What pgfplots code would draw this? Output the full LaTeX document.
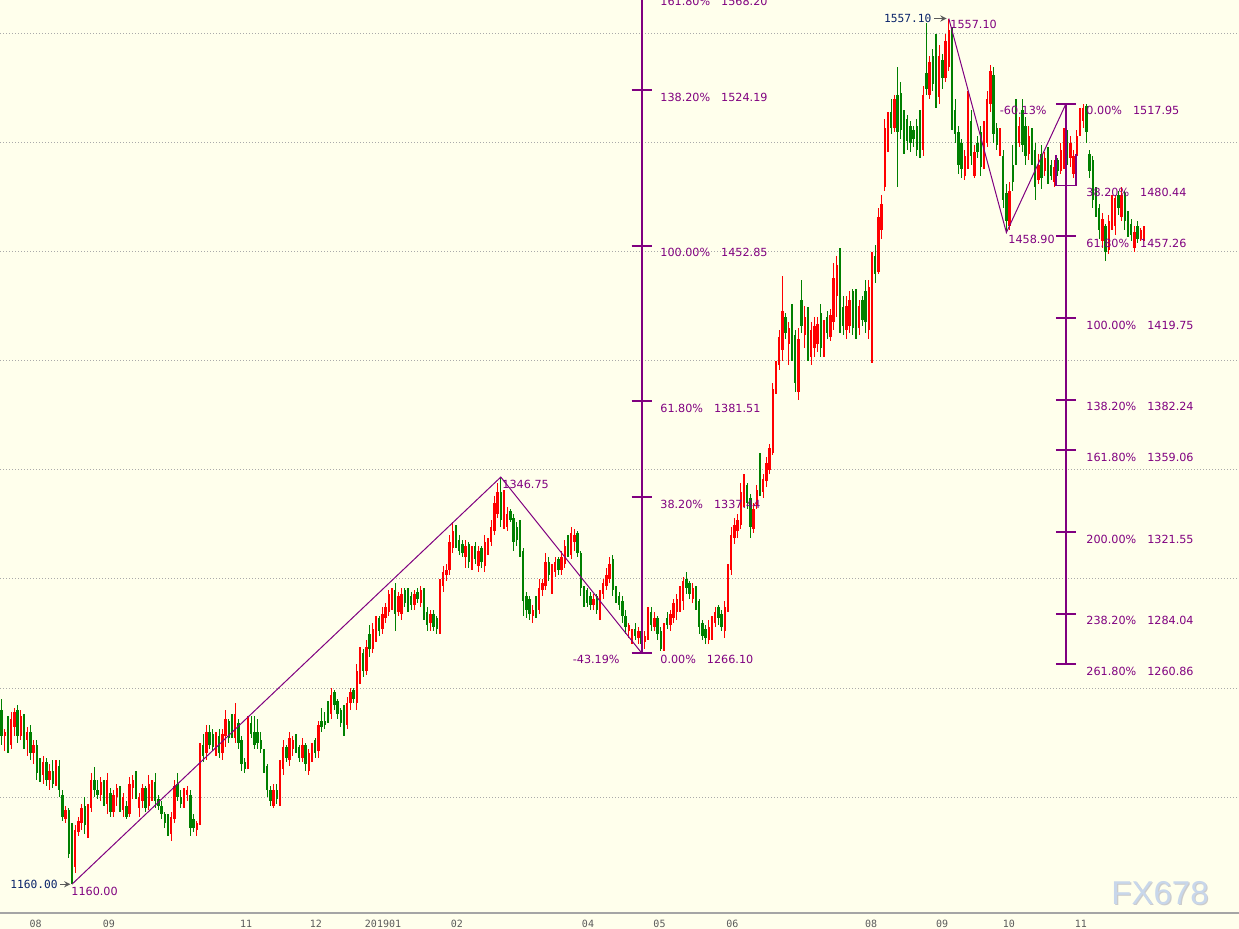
\documentclass[border=0pt]{standalone}
\usepackage{fontspec}
\setmainfont{DejaVu Sans}
\newfontfamily\monofont{DejaVu Sans Mono}
\newfontfamily\wmfont{Liberation Sans}
\usepackage{pgfplots}
\usepackage{pgfplotstable}
\pgfplotsset{compat=1.18}

\definecolor{bg}{RGB}{255,255,236}
\definecolor{upc}{RGB}{255,0,0}
\definecolor{dnc}{RGB}{0,128,0}
\definecolor{fib}{RGB}{128,0,128}
\definecolor{navy}{RGB}{10,36,106}
\definecolor{gridc}{RGB}{170,170,170}
\definecolor{axc}{RGB}{165,165,165}
\definecolor{tickc}{RGB}{90,90,90}
\definecolor{wm}{RGB}{200,215,235}

% daily candles: index, open, high, low, close
\pgfplotstableread{
i o h l c
0 1240 1245 1224 1228
1 1228 1231 1221 1230
2 1234 1237 1220 1224
3 1224 1239 1222 1236
4 1232 1241 1228 1239
5 1240 1242 1225 1228
6 1228 1240 1226 1237
7 1237 1238 1222 1226
8 1226 1232 1219 1230
9 1230 1233 1217 1220
10 1220 1226 1215 1224
11 1224 1226 1208 1211
12 1212 1218 1207 1210
13 1210 1219 1206 1216
14 1216 1218 1205 1208
15 1208 1215 1203 1212
16 1212 1217 1204 1206
17 1206 1217 1205 1214
18 1214 1217 1200 1203
19 1201 1203 1189 1191
20 1190 1196 1188 1194
21 1194 1195 1172 1174
22 1183 1188 1160 1166
23 1168 1187 1165 1185
24 1184 1191 1182 1189
25 1188 1197 1185 1195
26 1196 1200 1183 1187
27 1186 1197 1181 1195
28 1195 1211 1193 1208
29 1208 1214 1200 1203
30 1203 1208 1199 1201
31 1201 1209 1198 1207
32 1207 1208 1196 1198
33 1197 1211 1192 1208
34 1202 1204 1191 1193
35 1193 1203 1191 1201
36 1200 1206 1196 1204
37 1204 1205 1193 1195
38 1194 1202 1191 1200
39 1196 1198 1190 1191
40 1192 1209 1191 1206
41 1204 1210 1199 1208
42 1208 1212 1199 1201
43 1195 1202 1191 1200
44 1198 1206 1195 1204
45 1204 1205 1193 1195
46 1196 1210 1194 1206
47 1202 1208 1198 1206
48 1207 1211 1195 1198
49 1199 1201 1194 1196
50 1196 1198 1190 1192
51 1192 1193 1186 1188
52 1190 1192 1182 1184
53 1183 1193 1180 1191
54 1190 1208 1188 1205
55 1206 1211 1198 1200
56 1200 1203 1195 1197
57 1197 1204 1195 1202
58 1201 1205 1198 1203
59 1201 1203 1182 1186
60 1190 1192 1184 1186
61 1185 1189 1182 1188
62 1188 1225 1187 1222
63 1224 1229 1216 1219
64 1220 1233 1217 1230
65 1230 1233 1222 1224
66 1229 1231 1221 1223
67 1222 1230 1219 1228
68 1228 1231 1218 1220
69 1220 1231 1217 1229
70 1228 1240 1223 1236
71 1235 1236 1225 1227
72 1233 1238 1227 1229
73 1227 1243 1225 1238
74 1234 1236 1222 1225
75 1226 1228 1212 1215
76 1216 1218 1211 1213
77 1214 1237 1213 1234
78 1234 1237 1227 1229
79 1230 1237 1222 1224
80 1230 1236 1222 1225
81 1226 1230 1220 1222
82 1220 1222 1211 1214
83 1214 1215 1200 1203
84 1203 1205 1196 1198
85 1196 1206 1195 1203
86 1203 1206 1197 1199
87 1200 1217 1196 1214
88 1213 1226 1210 1223
89 1223 1224 1216 1218
90 1217 1230 1214 1227
91 1222 1228 1219 1226
92 1227 1229 1220 1222
93 1223 1224 1216 1218
94 1218 1227 1216 1224
95 1224 1225 1212 1215
96 1212 1222 1210 1220
97 1218 1225 1216 1223
98 1226 1227 1218 1220
99 1221 1235 1218 1233
100 1235 1241 1230 1232
101 1235 1239 1231 1233
102 1240 1244 1234 1236
103 1238 1250 1236 1247
104 1248 1249 1240 1242
105 1244 1245 1236 1238
106 1240 1241 1232 1234
107 1240 1242 1228 1231
108 1233 1246 1231 1243
109 1243 1250 1240 1248
110 1249 1250 1243 1245
111 1243 1261 1240 1258
112 1256 1269 1252 1266
113 1266 1268 1255 1258
114 1258 1272 1256 1269
115 1275 1279 1264 1268
116 1268 1280 1266 1277
117 1273 1283 1271 1281
118 1282 1283 1274 1276
119 1277 1287 1275 1284
120 1282 1289 1280 1287
121 1285 1295 1283 1293
122 1288 1296 1286 1294
123 1295 1298 1276 1284
124 1285 1294 1283 1292
125 1284 1296 1281 1293
126 1295 1296 1287 1289
127 1293 1296 1285 1287
128 1292 1294 1286 1288
129 1288 1295 1286 1293
130 1294 1296 1289 1291
131 1289 1297 1287 1295
132 1295 1296 1281 1284
133 1285 1287 1276 1279
134 1280 1286 1276 1284
135 1284 1286 1276 1278
136 1282 1283 1275 1277
137 1278 1300 1275 1297
138 1297 1306 1294 1303
139 1302 1307 1299 1304
140 1304 1320 1302 1317
141 1314 1326 1312 1322
142 1322 1325 1314 1316
143 1318 1320 1311 1313
144 1316 1318 1310 1312
145 1310 1318 1305 1315
146 1316 1317 1305 1308
147 1307 1315 1304 1312
148 1315 1317 1307 1309
149 1306 1315 1303 1313
150 1314 1315 1305 1308
151 1306 1320 1303 1317
152 1314 1319 1311 1317
153 1317 1327 1315 1324
154 1322 1338 1320 1335
155 1330 1344 1328 1340
156 1340 1346.75 1324 1327
157 1327 1341 1323 1337
158 1324 1333 1322 1330
159 1331 1332 1326 1327
160 1328 1330 1313 1317
161 1324 1326 1315 1318
162 1322 1327 1310 1313
163 1313 1314 1283 1290
164 1292 1294 1282 1286
165 1291 1292 1281 1284
166 1283 1288 1280 1286
167 1290 1292 1282 1285
168 1286 1300 1284 1296
169 1295 1300 1292 1298
170 1297 1312 1295 1308
171 1308 1310 1299 1302
172 1296 1307 1293 1305
173 1303 1310 1301 1308
174 1309 1310 1302 1304
175 1304 1313 1302 1310
176 1307 1318 1305 1315
177 1318 1320 1310 1312
178 1311 1324 1309 1321
179 1317 1323 1313 1320
180 1321 1322 1310 1312
181 1312 1313 1292 1296
182 1296 1297 1287 1290
183 1295 1296 1287 1289
184 1292 1294 1286 1288
185 1288 1293 1286 1291
186 1292 1293 1284 1286
187 1285 1295 1281 1293
188 1293 1300 1291 1298
189 1297 1305 1295 1302
190 1300 1310 1298 1307
191 1309 1311 1292 1295
192 1295 1297 1289 1291
193 1292 1294 1286 1288
194 1290 1292 1280 1283
195 1283 1286 1275 1278
196 1276 1280 1273 1279
197 1272 1277 1270 1276
198 1277 1280 1272 1274
199 1273 1278 1270 1276
200 1276 1278 1266.1 1270
201 1271 1276 1268 1274
202 1273 1287 1272 1284
203 1285 1287 1276 1279
204 1278 1285 1276 1282
205 1282 1283 1272 1275
206 1276 1278 1267 1268
207 1268 1280 1267 1277
208 1282 1285 1277 1279
209 1279 1286 1276 1284
210 1282 1291 1280 1289
211 1285 1293 1281 1291
212 1288 1297 1285 1295
213 1290 1301 1286 1299
214 1300 1303 1293 1296
215 1298 1299 1291 1293
216 1291 1298 1289 1296
217 1296 1297 1286 1288
218 1290 1291 1275 1278
219 1280 1281 1272 1274
220 1277 1279 1270 1273
221 1272 1281 1270 1278
222 1274 1283 1272 1281
223 1280 1287 1278 1285
224 1287 1288 1279 1282
225 1284 1286 1276 1278
226 1276 1290 1273 1287
227 1286 1307 1285 1304
228 1304 1324 1302 1320
229 1319 1328 1316 1325
230 1322 1330 1319 1327
231 1325 1344 1323 1340
232 1336 1348 1333 1345
233 1343 1344 1332 1335
234 1337 1339 1319 1324
235 1323 1335 1321 1332
236 1334 1343 1332 1341
237 1350 1358 1338 1342
238 1340 1348 1337 1346
239 1345 1356 1342 1353
240 1350 1362 1348 1360
241 1358 1390 1357 1387
242 1387 1400 1385 1397
243 1398 1414 1396 1411
244 1405 1439 1400 1423
245 1420 1422 1410 1413
246 1408 1418 1398 1415
247 1414 1426 1400 1413
248 1412 1414 1386 1390
249 1386 1415 1382 1410
250 1428 1437 1413 1416
251 1412 1425 1406 1420
252 1422 1425 1400 1404
253 1402 1418 1398 1414
254 1406 1420 1402 1416
255 1408 1420 1404 1417
256 1422 1426 1402 1406
257 1406 1419 1402 1416
258 1420 1423 1410 1413
259 1411 1424 1409 1421
260 1418 1445 1414 1438
261 1430 1448 1420 1444
262 1440 1452 1413 1418
263 1425 1430 1412 1416
264 1414 1430 1410 1425
265 1416 1432 1413 1428
266 1432 1433 1412 1415
267 1430 1433 1410 1414
268 1415 1428 1412 1425
269 1428 1430 1416 1419
270 1432 1437 1413 1418
271 1414 1437 1410 1434
272 1412 1450 1399 1446
273 1448 1453 1436 1440
274 1441 1470 1440 1466
275 1460 1476 1456 1472
276 1480 1511 1478 1507
277 1500 1514 1496 1511
278 1514 1520 1504 1507
279 1507 1522 1505 1520
280 1522 1535 1480 1505
281 1523 1528 1502 1506
282 1513 1515 1495 1499
283 1511 1513 1497 1501
284 1508 1510 1496 1500
285 1506 1508 1498 1502
286 1508 1511 1494 1497
287 1513 1515 1493 1498
288 1497 1526 1494 1522
289 1532 1555 1522 1525
290 1522 1540 1520 1537
291 1540 1543 1524 1527
292 1545 1550 1516 1522
293 1521 1545 1518 1540
294 1538 1541 1525 1530
295 1530 1550 1528 1547
296 1535 1557.1 1533 1552
297 1551 1553 1506 1510
298 1515 1520 1500 1504
299 1505 1508 1486 1490
300 1500 1502 1484 1488
301 1485 1497 1483 1494
302 1490 1524 1488 1518
303 1510 1515 1490 1494
304 1485 1499 1484 1496
305 1500 1503 1493 1496
306 1505 1508 1485 1489
307 1490 1510 1488 1506
308 1500 1524 1498 1520
309 1518 1536 1514 1533
310 1531 1535 1500 1504
311 1507 1509 1497 1499
312 1497 1507 1494 1504
313 1494 1497 1470 1474
314 1477 1481 1458.9 1464
315 1462 1482 1460 1478
316 1490 1499 1478 1482
317 1515 1520 1490 1494
318 1500 1512 1498 1508
319 1515 1520 1496 1499
320 1508 1512 1490 1494
321 1495 1508 1492 1503
322 1504 1507 1490 1494
323 1497 1500 1474 1480
324 1483 1495 1481 1490
325 1495 1499 1479 1484
326 1487 1496 1485 1493
327 1495 1498 1481 1485
328 1490 1492 1483 1485
329 1482 1492 1480 1489
330 1492 1493 1485 1487
331 1487 1500 1486 1497
332 1490 1507 1488 1504
333 1502 1506 1490 1494
334 1493 1503 1489 1500
335 1486 1497 1484 1494
336 1494 1506 1492 1503
337 1505 1516 1503 1513
338 1510 1518 1507 1516
339 1517 1517.95 1500 1505
340 1495 1497 1484 1487
341 1492 1494 1470 1474
342 1478 1480 1466 1468
343 1470 1472 1456 1460
344 1455 1468 1452 1465
345 1462 1463 1446 1450
346 1451 1467 1449 1464
347 1462 1476 1460 1472
348 1462 1476 1458 1475
349 1476 1478 1467 1470
350 1466 1480 1464 1476
351 1477 1478 1460 1464
352 1467 1469 1457 1460
353 1463 1465 1455 1458
354 1452 1462 1450 1459
355 1462 1464 1454 1456
356 1456 1461 1455 1460
357 1456 1462 1455 1461
}\candles

\newcommand\labfont{\fontsize{5.6}{6}\selectfont}
\newcommand\navfont{\monofont\fontsize{5.6}{6}\selectfont}
\tikzset{
  fiblab/.style={anchor=west, text=fib, font=\labfont, inner sep=0pt, yshift=-3.5pt},
  fibline/.style={draw=fib, line width=1pt},
  hgrid/.style={densely dotted, draw=gridc, line width=0.5pt},
}

\begin{document}
\begin{tikzpicture}
\fill[bg] (0pt,-8pt) rectangle (619.5pt,456.5pt);
\begin{axis}[
    name=ax,
    at={(0pt,0pt)}, anchor=south west,
    width=619.5pt, height=456.5pt, scale only axis,
    xmin=-0.5, xmax=386.69,
    ymin=1146.8, ymax=1565.6,
    axis line style={draw=none},
    major tick length=0pt,
    ytick=\empty,
    xtick={10.6,33.5,76.4,98.25,119.2,142.3,183.25,205.6,228.4,271.7,293.9,314.8,337.3},
    xticklabels={08,09,11,12,201901,02,04,05,06,08,09,10,11},
    xticklabel style={font=\monofont\fontsize{5}{6}\selectfont, text=tickc},
    candle/.style={draw=none, mark=none, forget plot},
]
% horizontal price grid every 50
\draw[hgrid] (-0.5,1200) -- (386.69,1200);
\draw[hgrid] (-0.5,1250) -- (386.69,1250);
\draw[hgrid] (-0.5,1300) -- (386.69,1300);
\draw[hgrid] (-0.5,1350) -- (386.69,1350);
\draw[hgrid] (-0.5,1400) -- (386.69,1400);
\draw[hgrid] (-0.5,1450) -- (386.69,1450);
\draw[hgrid] (-0.5,1500) -- (386.69,1500);
\draw[hgrid] (-0.5,1550) -- (386.69,1550);

% up candles (red): wick, then body
\addplot[candle,
    restrict expr to domain={\thisrow{c}-\thisrow{o}}{0:10000},
    error bars/.cd, y dir=both, y explicit, error mark=none,
    error bar style={draw=upc, line width=0.55pt}]
    table[x=i, y expr={(\thisrow{h}+\thisrow{l})/2}, y error expr={(\thisrow{h}-\thisrow{l})/2}] {\candles};
\addplot[candle,
    restrict expr to domain={\thisrow{c}-\thisrow{o}}{0:10000},
    error bars/.cd, y dir=both, y explicit, error mark=none,
    error bar style={draw=upc, line width=1.2pt}]
    table[x=i, y expr={(\thisrow{o}+\thisrow{c})/2}, y error expr={abs(\thisrow{c}-\thisrow{o})/2}] {\candles};
% down candles (green)
\addplot[candle,
    restrict expr to domain={\thisrow{o}-\thisrow{c}}{0.001:10000},
    error bars/.cd, y dir=both, y explicit, error mark=none,
    error bar style={draw=dnc, line width=0.55pt}]
    table[x=i, y expr={(\thisrow{h}+\thisrow{l})/2}, y error expr={(\thisrow{h}-\thisrow{l})/2}] {\candles};
\addplot[candle,
    restrict expr to domain={\thisrow{o}-\thisrow{c}}{0.001:10000},
    error bars/.cd, y dir=both, y explicit, error mark=none,
    error bar style={draw=dnc, line width=1.2pt}]
    table[x=i, y expr={(\thisrow{o}+\thisrow{c})/2}, y error expr={abs(\thisrow{c}-\thisrow{o})/2}] {\candles};

% zigzag swings
\addplot[fib, line width=0.5pt, forget plot] coordinates {(22,1160) (156,1346.75) (200,1266.1)};
\addplot[fib, line width=0.5pt, forget plot] coordinates {(296,1557.1) (314,1458.9) (332.6,1517.95)};

% first fibonacci projection
\draw[fibline] (200,1266.1) -- (200,1600);
\draw[fibline] (196.9,1266.1) -- (203.1,1266.1);
\draw[fibline] (196.9,1337.44) -- (203.1,1337.44);
\draw[fibline] (196.9,1381.51) -- (203.1,1381.51);
\draw[fibline] (196.9,1452.85) -- (203.1,1452.85);
\draw[fibline] (196.9,1524.19) -- (203.1,1524.19);
\draw[fibline] (196.9,1568.2) -- (203.1,1568.2);
\node[fiblab] at (205.75,1266.1) {0.00\%\hspace{5.5pt}1266.10};
\node[fiblab] at (205.75,1337.44) {38.20\%\hspace{5.5pt}1337.44};
\node[fiblab] at (205.75,1381.51) {61.80\%\hspace{5.5pt}1381.51};
\node[fiblab] at (205.75,1452.85) {100.00\%\hspace{5.5pt}1452.85};
\node[fiblab] at (205.75,1524.19) {138.20\%\hspace{5.5pt}1524.19};
\node[fiblab] at (205.75,1568.2) {161.80\%\hspace{5.5pt}1568.20};
\node[fiblab, anchor=east] at (193.25,1266.1) {-43.19\%};

% second fibonacci projection
\draw[fibline] (332.6,1517.95) -- (332.6,1260.86);
\draw[fibline] (329.5,1517.95) -- (335.75,1517.95);
\draw[fibline] (329.5,1457.26) -- (335.75,1457.26);
\draw[fibline] (329.5,1419.75) -- (335.75,1419.75);
\draw[fibline] (329.5,1382.24) -- (335.75,1382.24);
\draw[fibline] (329.5,1359.06) -- (335.75,1359.06);
\draw[fibline] (329.5,1321.55) -- (335.75,1321.55);
\draw[fibline] (329.5,1284.04) -- (335.75,1284.04);
\draw[fibline] (329.5,1260.86) -- (335.75,1260.86);
\draw[draw=fib, line width=0.6pt] (329.5,1494.5) -- (329.5,1480.44) -- (335.75,1480.44) -- (335.75,1495);
\node[fiblab] at (338.9,1517.95) {0.00\%\hspace{5.5pt}1517.95};
\node[fiblab] at (338.9,1480.44) {38.20\%\hspace{5.5pt}1480.44};
\node[fiblab] at (338.9,1457.26) {61.80\%\hspace{5.5pt}1457.26};
\node[fiblab] at (338.9,1419.75) {100.00\%\hspace{5.5pt}1419.75};
\node[fiblab] at (338.9,1382.24) {138.20\%\hspace{5.5pt}1382.24};
\node[fiblab] at (338.9,1359.06) {161.80\%\hspace{5.5pt}1359.06};
\node[fiblab] at (338.9,1321.55) {200.00\%\hspace{5.5pt}1321.55};
\node[fiblab] at (338.9,1284.04) {238.20\%\hspace{5.5pt}1284.04};
\node[fiblab] at (338.9,1260.86) {261.80\%\hspace{5.5pt}1260.86};
\node[fiblab, anchor=east] at (326.7,1517.95) {-60.13\%};

% swing point labels
\node[fiblab] at (21.7,1160) {1160.00};
\node[fiblab] at (156.4,1346.75) {1346.75};
\node[fiblab, yshift=0.3pt] at (296.4,1557.1) {1557.10};
\node[fiblab, yshift=0.3pt] at (314.5,1458.9) {1458.90};
\node[anchor=east, text=navy, font=\navfont, inner sep=0pt] at (17.6,1160) {1160.00};
\draw[->, >=stealth, draw=tickc, line width=0.4pt] (18.3,1160) -- (21.5,1160);
\node[anchor=east, text=navy, font=\navfont, inner sep=0pt] at (290.7,1557.1) {1557.10};
\draw[->, >=stealth, draw=tickc, line width=0.4pt] (291.4,1557.1) -- (295.3,1557.1);

% watermark
\node[text=gray!40, font=\wmfont\fontsize{16.5}{17}\selectfont, xshift=0.6pt, yshift=-0.6pt] at (362,1156) {FX678};
\node[text=wm, font=\wmfont\fontsize{16.5}{17}\selectfont] at (362,1156) {FX678};
\end{axis}
\draw[axc, line width=0.6pt] (0pt,0pt) -- (619.5pt,0pt);
\pgfresetboundingbox
\path[use as bounding box] (0pt,-8pt) rectangle (619.5pt,456.5pt);
\end{tikzpicture}
\end{document}
